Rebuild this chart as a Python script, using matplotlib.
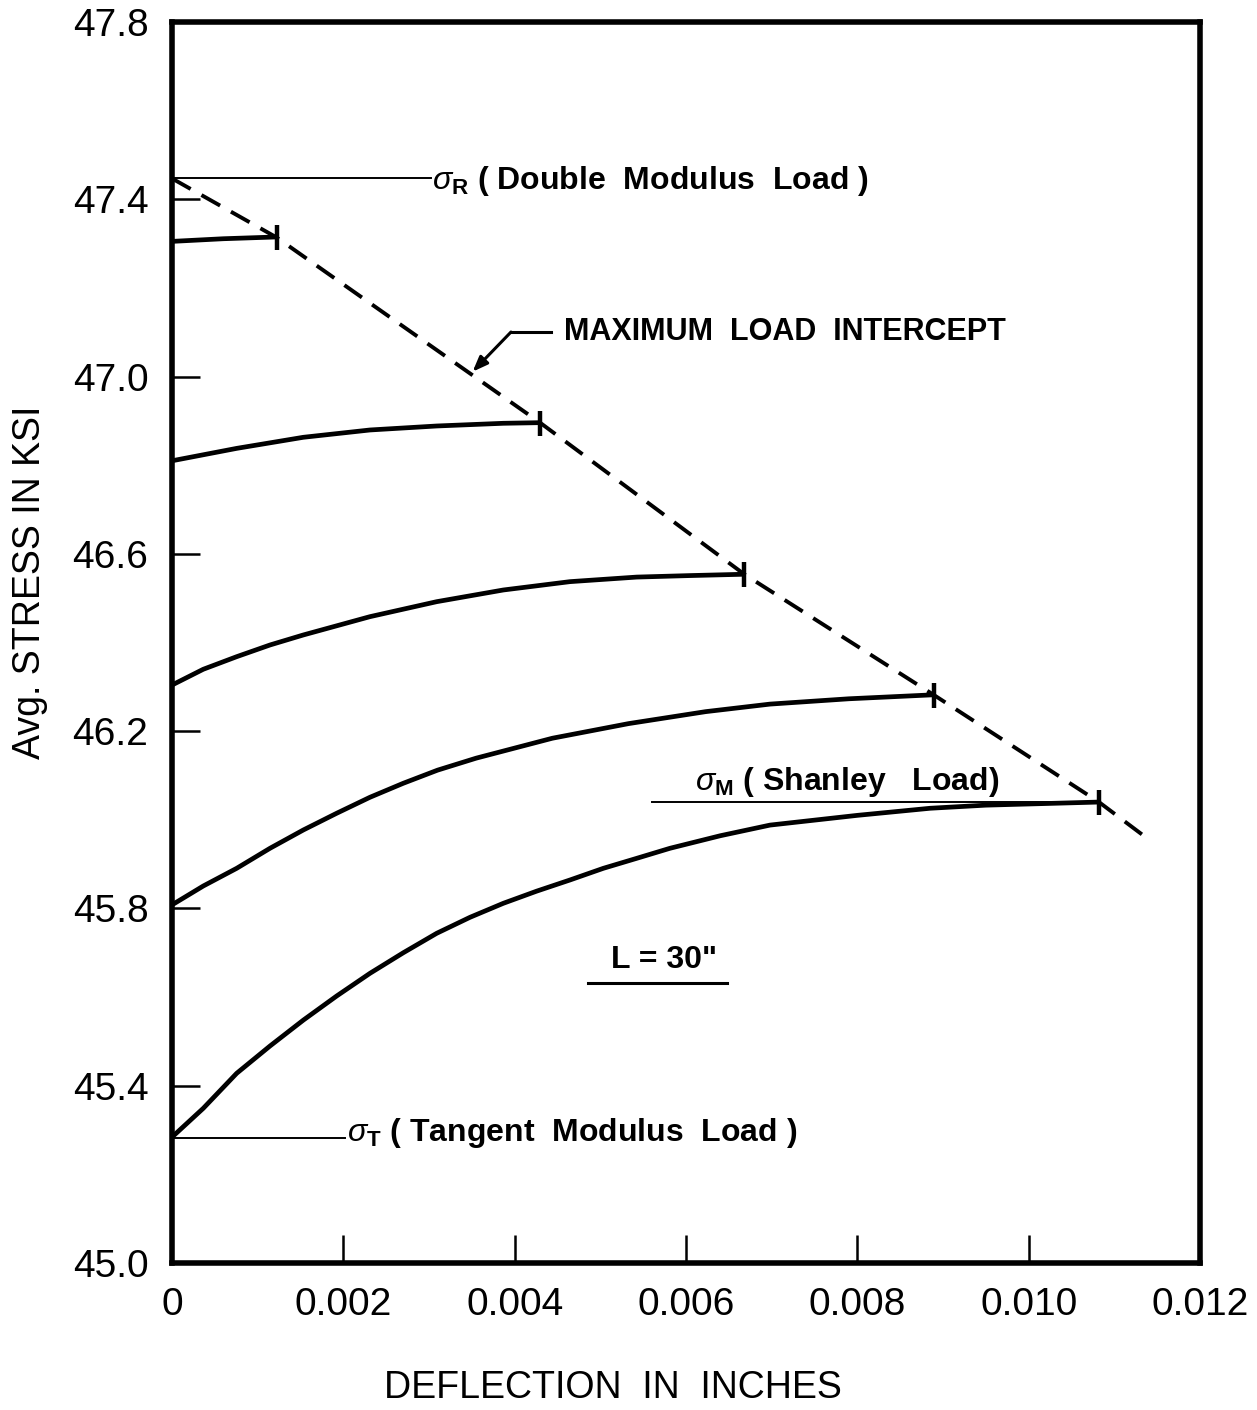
import matplotlib
matplotlib.use("Agg")
import matplotlib.pyplot as plt
from matplotlib import font_manager

# ---------------- data ----------------
curve1_x = [0.0, 0.0006, 0.00122]
curve1_y = [47.305, 47.311, 47.315]

curve2_x = [0.0, 0.000755, 0.001533, 0.002311, 0.00309, 0.003868, 0.004296]
curve2_y = [46.810, 46.838, 46.863, 46.8795, 46.8885, 46.8946, 46.896]

curve3_x = [0.0, 0.000365, 0.000755, 0.001144, 0.001533, 0.002311, 0.00309, 0.003868,
            0.004646, 0.005424, 0.006047, 0.00668]
curve3_y = [46.304, 46.3396, 46.368, 46.3944, 46.417, 46.4583, 46.4921, 46.5185,
            46.5373, 46.5476, 46.551, 46.554]

curve4_x = [0.0, 0.000365, 0.000755, 0.001144, 0.001533, 0.001922, 0.002311, 0.0027,
            0.0031, 0.00355, 0.00444, 0.00533, 0.00623, 0.00698, 0.00790, 0.00889]
curve4_y = [45.808, 45.8506, 45.8905, 45.9357, 45.977, 46.0147, 46.0508, 46.0824,
            46.112, 46.139, 46.184, 46.217, 46.244, 46.261, 46.273, 46.282]

curve5_x = [0.0, 0.000365, 0.000755, 0.001144, 0.001533, 0.001922, 0.002311, 0.0027,
            0.00309, 0.003479, 0.003868, 0.004257, 0.004646, 0.005035, 0.005424, 0.005813,
            0.0064, 0.00698, 0.0080, 0.00885, 0.0095, 0.01082]
curve5_y = [45.284, 45.349, 45.428, 45.4896, 45.548, 45.6024, 45.6536, 45.700,
            45.7439, 45.780, 45.8116, 45.839, 45.8642, 45.8905, 45.913, 45.9357,
            45.964, 45.988, 46.010, 46.026, 46.033, 46.040]

curves_x = [curve1_x, curve2_x, curve3_x, curve4_x, curve5_x]
curves_y = [curve1_y, curve2_y, curve3_y, curve4_y, curve5_y]

intercept_x = [0.0, 0.00122, 0.004296, 0.00668, 0.00889, 0.01082, 0.01135]
intercept_y = [47.447, 47.314, 46.896, 46.554, 46.282, 46.040, 45.963]

sigma_R = 47.447
sigma_T = 45.281
sigma_M = 46.041

x_ticks = [0.0, 0.002, 0.004, 0.006, 0.008, 0.010, 0.012]
x_ticklabels = ["0", "0.002", "0.004", "0.006", "0.008", "0.010", "0.012"]
y_ticks = [45.0, 45.4, 45.8, 46.2, 46.6, 47.0, 47.4, 47.8]
y_ticklabels = ["45.0", "45.4", "45.8", "46.2", "46.6", "47.0", "47.4", "47.8"]

# ---------------- fonts ----------------
names = {f.name for f in font_manager.fontManager.ttflist}
narrow = "Liberation Sans Narrow" if "Liberation Sans Narrow" in names else "Liberation Sans"
plt.rcParams["font.family"] = ["Liberation Sans", "DejaVu Sans"]
plt.rcParams["mathtext.fontset"] = "custom"
plt.rcParams["mathtext.rm"] = "Liberation Sans"
plt.rcParams["mathtext.it"] = "Liberation Sans:italic"
plt.rcParams["mathtext.bf"] = "Liberation Sans:bold"

fig = plt.figure(figsize=(12.57, 14.10), dpi=100)
ax = fig.add_axes([172/1257, 1 - 1263/1410, (1200-172)/1257, (1263-22)/1410])

lw_curve = 3.4
for cx, cy in zip(curves_x, curves_y):
    ax.plot(cx, cy, color="black", lw=lw_curve, solid_capstyle="butt", solid_joinstyle="round")
    ax.plot([cx[-1]], [cy[-1]], marker="|", markersize=18, mew=3.2, color="black")

ax.plot(intercept_x, intercept_y, color="black", lw=2.8, dashes=(5.5, 3.2))

# reference lines
ax.plot([0.0, 0.00302], [sigma_R, sigma_R], color="black", lw=1.4)
ax.plot([0.0, 0.00202], [sigma_T, sigma_T], color="black", lw=1.4)
ax.plot([0.00560, 0.01081], [sigma_M, sigma_M], color="black", lw=1.4)

tfs = 23
ax.text(0.00304, sigma_R - 0.006, r"$\sigma_{\mathbf{R}}$" + " ( Double  Modulus  Load )",
        fontsize=tfs, fontweight="bold", va="center", ha="left")
ax.text(0.00204, sigma_T + 0.012, r"$\sigma_{\mathbf{T}}$" + " ( Tangent  Modulus  Load )",
        fontsize=tfs, fontweight="bold", va="center", ha="left")
ax.text(0.00610, sigma_M + 0.045, r"$\sigma_{\mathbf{M}}$" + " ( Shanley   Load)",
        fontsize=tfs, fontweight="bold", va="center", ha="left")

ax.annotate("", xy=(0.003509, 47.011), xytext=(0.003957, 47.1005),
            arrowprops=dict(arrowstyle="-|>,head_length=0.9,head_width=0.35",
                            color="black", lw=2.2, shrinkA=0, shrinkB=0))
ax.plot([0.003957, 0.004424], [47.1005, 47.1005], color="black", lw=2.2)
ax.text(0.00458, 47.1005, "MAXIMUM  LOAD  INTERCEPT", fontsize=22, fontweight="bold",
        va="center", ha="left")

ax.text(0.005743, 45.684, 'L = 30"', fontsize=tfs, fontweight="bold", va="center", ha="center")
ax.plot([0.004856, 0.006478], [45.632, 45.632], color="black", lw=2.2)

# axes styling
ax.set_xlim(0.0, 0.012)
ax.set_ylim(45.0, 47.8)
ax.set_xticks(x_ticks)
ax.set_xticklabels(x_ticklabels)
ax.set_yticks(y_ticks)
ax.set_yticklabels(y_ticklabels)
for s in ax.spines.values():
    s.set_linewidth(4)
ax.tick_params(axis="both", direction="in", length=20, width=1.8, labelsize=28)
ax.tick_params(axis="x", pad=17)
ax.tick_params(axis="y", pad=17)

fig.text(613/1257, 1 - 1388/1410, "DEFLECTION  IN  INCHES", fontsize=27, family=narrow,
         ha="center", va="center")
fig.text(30/1257, 1 - 582/1410, "Avg. STRESS IN KSI", fontsize=27, family=narrow,
         ha="center", va="center", rotation=90)

fig.savefig("out.png", dpi=100)
